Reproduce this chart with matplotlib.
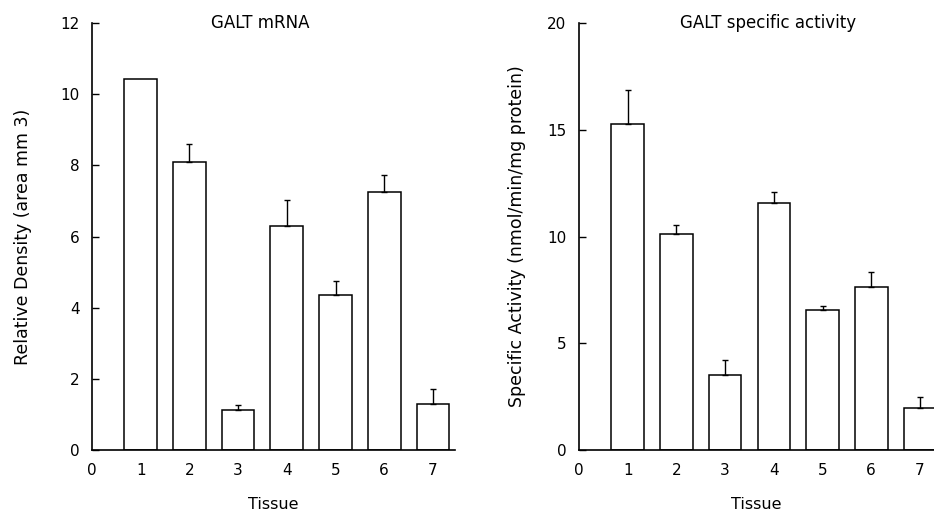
import numpy as np
import matplotlib
matplotlib.use('Agg')
import matplotlib.pyplot as plt

plt.rcParams['font.family'] = ['DejaVu Sans']

tissue = [1, 2, 3, 4, 5, 6, 7]

# GALT mRNA, relative density (area mm 3); tissue 1 has no error bar
mrna = [10.42, 8.10, 1.13, 6.30, 4.36, 7.26, 1.29]
mrna_err = [0.0, 0.49, 0.13, 0.74, 0.40, 0.46, 0.43]

# GALT specific activity (nmol/min/mg protein)
activity = [15.28, 10.13, 3.50, 11.56, 6.58, 7.66, 1.99]
activity_err = [1.59, 0.41, 0.74, 0.54, 0.16, 0.66, 0.48]

fig = plt.figure(figsize=(9.34, 5.11), dpi=100)
ax1 = fig.add_axes([0.0985, 0.119, 0.389, 0.836])
ax2 = fig.add_axes([0.620, 0.119, 0.380, 0.836])


def draw_panel(ax, values, errs, ymax, yticks, xmax, title, title_x, ylabel, ylab_x):
    x = np.array(tissue)
    v = np.array(values)
    e = np.array(errs)
    ax.bar(x, v, width=0.67, color='white', edgecolor='black', linewidth=1.1, zorder=2)
    # only the upper half of each error bar is drawn
    m = e > 0
    ax.errorbar(x[m], v[m], yerr=[np.zeros(m.sum()), e[m]], fmt='none',
                ecolor='black', elinewidth=1.0, capsize=2.5, capthick=1.0, zorder=3)
    ax.set_xlim(0, xmax)
    ax.set_ylim(0, ymax)
    ax.set_xticks([0] + tissue)
    ax.set_yticks(yticks)
    ax.tick_params(axis='x', length=0, pad=9, labelsize=11)
    ax.tick_params(axis='y', direction='in', length=5, width=1.0, pad=9, labelsize=11)
    for s in ['top', 'right']:
        ax.spines[s].set_visible(False)
    for s in ['left', 'bottom']:
        ax.spines[s].set_linewidth(1.2)
    ax.text(title_x, ymax, title, ha='center', va='center', fontsize=12)
    ax.set_ylabel(ylabel, fontsize=12.5)
    ax.yaxis.set_label_coords(ylab_x, 0.5)
    ax.set_xlabel('Tissue', fontsize=11.5, labelpad=14)


draw_panel(ax1, mrna, mrna_err, 12, [0, 2, 4, 6, 8, 10, 12], 7.46,
           'GALT mRNA', 3.45, 'Relative Density (area mm 3)', -0.165)
draw_panel(ax2, activity, activity_err, 20, [0, 5, 10, 15, 20], 7.29,
           'GALT specific activity', 3.88, 'Specific Activity (nmol/min/mg protein)', -0.15)

fig.savefig('out.png', dpi=100)
